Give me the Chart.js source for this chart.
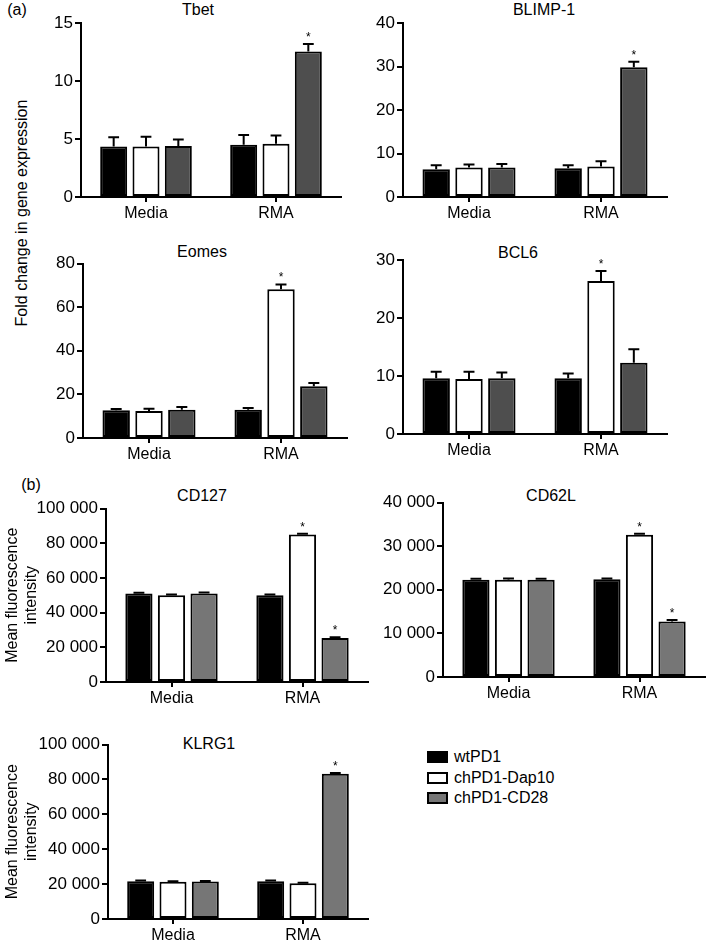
<!DOCTYPE html>
<html>
<head>
<meta charset="utf-8">
<script src="https://cdn.jsdelivr.net/npm/chart.js@4.4.1/dist/chart.umd.min.js"></script>
<style>
  body { margin: 0; background: #fff; }
  #fig { position: relative; width: 709px; height: 945px; overflow: hidden; font-family: "Liberation Sans", Arial, Helvetica, sans-serif; color: #000; }
  #fig canvas { position: absolute; }
  .txt { position: absolute; font-size: 16px; white-space: nowrap; transform: translate(-50%, -50%); }
  .legend { position: absolute; left: 427px; top: 747px; font-size: 16px; }
  .legend div { height: 20.5px; line-height: 20px; }
  .legend span { display: inline-block; width: 17px; height: 8px; border: 2px solid #000; margin-right: 6px; vertical-align: -1px; }
</style>
</head>
<body>
<div id="fig">
  <div class="txt" style="left:17px; top:10px;">(a)</div>
  <div class="txt" style="left:31px; top:485px;">(b)</div>
  <div class="txt" style="left:22px; top:213px; transform: translate(-50%, -50%) rotate(-90deg);">Fold change in gene expression</div>
  <div class="txt" style="left:198px; top:10px;">Tbet</div>
  <div class="txt" style="left:544px; top:10px;">BLIMP-1</div>
  <div class="txt" style="left:202px; top:252px;">Eomes</div>
  <div class="txt" style="left:518px; top:253px;">BCL6</div>
  <div class="txt" style="left:202px; top:496px;">CD127</div>
  <div class="txt" style="left:551px; top:496px;">CD62L</div>
  <div class="txt" style="left:209px; top:744px;">KLRG1</div>
  <div class="legend">
    <div><span style="background:#000"></span>wtPD1</div>
    <div><span style="background:#fff"></span>chPD1-Dap10</div>
    <div><span style="background:#767676"></span>chPD1-CD28</div>
  </div>
  <canvas id="tbet"></canvas>
  <canvas id="blimp"></canvas>
  <canvas id="eomes"></canvas>
  <canvas id="bcl6"></canvas>
  <canvas id="cd127"></canvas>
  <canvas id="cd62l"></canvas>
  <canvas id="klrg1"></canvas>
</div>
<script>
// data (mean and SEM per group)
const categories = ['Media', 'RMA'];
const seriesNames = ['wtPD1', 'chPD1-Dap10', 'chPD1-CD28'];

const tbetWt = [4.35, 4.5];
const tbetDap10 = [4.35, 4.6];
const tbetCd28 = [4.4, 12.55];
const tbetWtSem = [0.8, 0.85];
const tbetDap10Sem = [0.85, 0.7];
const tbetCd28Sem = [0.55, 0.65];
const tbetTicks = [0, 5, 10, 15];

const blimpWt = [6.4, 6.6];
const blimpDap10 = [6.8, 7.0];
const blimpCd28 = [6.8, 29.8];
const blimpWtSem = [0.9, 0.7];
const blimpDap10Sem = [0.65, 1.2];
const blimpCd28Sem = [0.8, 1.3];
const blimpTicks = [0, 10, 20, 30, 40];

const eomesWt = [12.7, 13.0];
const eomesDap10 = [12.4, 68.2];
const eomesCd28 = [13.0, 23.7];
const eomesWtSem = [0.6, 0.8];
const eomesDap10Sem = [1.0, 2.2];
const eomesCd28Sem = [1.2, 1.5];
const eomesTicks = [0, 20, 40, 60, 80];

const bcl6Wt = [9.6, 9.6];
const bcl6Dap10 = [9.5, 26.4];
const bcl6Cd28 = [9.6, 12.3];
const bcl6WtSem = [1.15, 0.85];
const bcl6Dap10Sem = [1.25, 1.7];
const bcl6Cd28Sem = [1.0, 2.3];
const bcl6Ticks = [0, 10, 20, 30];

const cd127Wt = [51000, 50000];
const cd127Dap10 = [50000, 85000];
const cd127Cd28 = [51000, 25400];
const cd127WtSem = [500, 400];
const cd127Dap10Sem = [400, 400];
const cd127Cd28Sem = [600, 400];
const cd127Ticks = [0, 20000, 40000, 60000, 80000, 100000];

const cd62lWt = [22300, 22400];
const cd62lDap10 = [22300, 32600];
const cd62lCd28 = [22300, 12700];
const cd62lWtSem = [250, 200];
const cd62lDap10Sem = [300, 250];
const cd62lCd28Sem = [200, 350];
const cd62lTicks = [0, 10000, 20000, 30000, 40000];

const klrg1Wt = [21700, 21700];
const klrg1Dap10 = [21400, 20500];
const klrg1Cd28 = [21500, 83200];
const klrg1WtSem = [300, 300];
const klrg1Dap10Sem = [300, 300];
const klrg1Cd28Sem = [300, 500];
const klrg1Ticks = [0, 20000, 40000, 60000, 80000, 100000];

// significance marks (* above bar), per series, per category
const noStar = [false, false];
const starRma = [false, true];

const FONT = "'Liberation Sans', Arial, Helvetica, sans-serif";
const MFI_TITLE = ['Mean fluorescence', 'intensity'];

function fmt(v) {
  return String(v).replace(/\B(?=(\d{3})+(?!\d))/g, ' ');
}

// error bars + asterisks
const errorBars = {
  id: 'errorBars',
  afterDatasetsDraw(chart) {
    const ctx = chart.ctx;
    const yScale = chart.scales.y;
    chart.data.datasets.forEach((ds, i) => {
      chart.getDatasetMeta(i).data.forEach((bar, j) => {
        const top = yScale.getPixelForValue(ds.data[j] + ds.sem[j]);
        const cap = bar.width * 0.2;
        ctx.save();
        ctx.strokeStyle = '#000';
        ctx.lineWidth = 2;
        ctx.beginPath();
        ctx.moveTo(bar.x, bar.y);
        ctx.lineTo(bar.x, top);
        ctx.moveTo(bar.x - cap, top);
        ctx.lineTo(bar.x + cap, top);
        ctx.stroke();
        if (ds.stars[j]) {
          ctx.fillStyle = '#000';
          ctx.font = '12px ' + FONT;
          ctx.textAlign = 'center';
          ctx.textBaseline = 'alphabetic';
          ctx.fillText('*', bar.x, top - 3);
        }
        ctx.restore();
      });
    });
  }
};

function makeChart(id, box, area, series, sems, stars, ticks, grey, yTitle) {
  const cv = document.getElementById(id);
  cv.width = box.w;
  cv.height = box.h;
  cv.style.left = box.x + 'px';
  cv.style.top = box.y + 'px';
  const fills = ['#000', '#fff', grey];
  return new Chart(cv.getContext('2d'), {
    type: 'bar',
    data: {
      labels: categories,
      datasets: series.map((d, i) => ({
        label: seriesNames[i],
        data: d,
        sem: sems[i],
        stars: stars[i],
        backgroundColor: fills[i],
        borderColor: '#000',
        borderWidth: 2,
        borderSkipped: false,
        categoryPercentage: 0.746,
        barPercentage: 0.835
      }))
    },
    options: {
      responsive: false,
      animation: false,
      events: [],
      layout: { padding: { left: 0, bottom: 0, top: area.t - box.y, right: box.x + box.w - area.r } },
      plugins: { legend: { display: false }, tooltip: { enabled: false } },
      scales: {
        x: {
          offset: true,
          grid: { offset: false, drawOnChartArea: false, tickLength: 5, color: '#000', lineWidth: 2 },
          border: { display: true, color: '#000', width: 2 },
          ticks: { color: '#000', padding: 2, font: { family: FONT, size: 16 } },
          afterFit: s => { s.height = box.y + box.h - area.b; }
        },
        y: {
          min: 0,
          max: ticks[ticks.length - 1],
          afterBuildTicks: s => { s.ticks = ticks.map(v => ({ value: v })); },
          grid: { drawOnChartArea: false, tickLength: 6, color: '#000', lineWidth: 2 },
          border: { display: true, color: '#000', width: 2 },
          ticks: { color: '#000', padding: 2, font: { family: FONT, size: 17 }, callback: v => fmt(v) },
          title: {
            display: !!yTitle,
            text: yTitle || '',
            color: '#000',
            font: { family: FONT, size: 16, lineHeight: 1.2 },
            padding: { top: 2.5, bottom: 0 }
          },
          afterFit: s => { s.width = area.l - box.x; }
        }
      }
    },
    plugins: [errorBars]
  });
}

const GREY_A = '#4e4e4e';
const GREY_B = '#767676';

makeChart('tbet', { x: 40, y: 6, w: 320, h: 219 }, { l: 81, r: 341, t: 23, b: 197 },
  [tbetWt, tbetDap10, tbetCd28], [tbetWtSem, tbetDap10Sem, tbetCd28Sem],
  [noStar, noStar, starRma], tbetTicks, GREY_A);

makeChart('blimp', { x: 365, y: 6, w: 335, h: 219 }, { l: 403, r: 667, t: 23, b: 197 },
  [blimpWt, blimpDap10, blimpCd28], [blimpWtSem, blimpDap10Sem, blimpCd28Sem],
  [noStar, noStar, starRma], blimpTicks, GREY_A);

makeChart('eomes', { x: 40, y: 244, w: 320, h: 222 }, { l: 83, r: 347, t: 263.5, b: 438 },
  [eomesWt, eomesDap10, eomesCd28], [eomesWtSem, eomesDap10Sem, eomesCd28Sem],
  [noStar, starRma, noStar], eomesTicks, GREY_A);

makeChart('bcl6', { x: 365, y: 240, w: 335, h: 222 }, { l: 403, r: 667, t: 260, b: 434 },
  [bcl6Wt, bcl6Dap10, bcl6Cd28], [bcl6WtSem, bcl6Dap10Sem, bcl6Cd28Sem],
  [noStar, starRma, noStar], bcl6Ticks, GREY_A);

makeChart('cd127', { x: 0, y: 490, w: 390, h: 220 }, { l: 106, r: 368, t: 508.5, b: 682 },
  [cd127Wt, cd127Dap10, cd127Cd28], [cd127WtSem, cd127Dap10Sem, cd127Cd28Sem],
  [noStar, starRma, starRma], cd127Ticks, GREY_B, MFI_TITLE);

makeChart('cd62l', { x: 370, y: 485, w: 339, h: 220 }, { l: 443, r: 705, t: 502.5, b: 677 },
  [cd62lWt, cd62lDap10, cd62lCd28], [cd62lWtSem, cd62lDap10Sem, cd62lCd28Sem],
  [noStar, starRma, starRma], cd62lTicks, GREY_B);

makeChart('klrg1', { x: 0, y: 728, w: 390, h: 218 }, { l: 108, r: 368, t: 744.5, b: 919 },
  [klrg1Wt, klrg1Dap10, klrg1Cd28], [klrg1WtSem, klrg1Dap10Sem, klrg1Cd28Sem],
  [noStar, noStar, starRma], klrg1Ticks, GREY_B, MFI_TITLE);
</script>
</body>
</html>
